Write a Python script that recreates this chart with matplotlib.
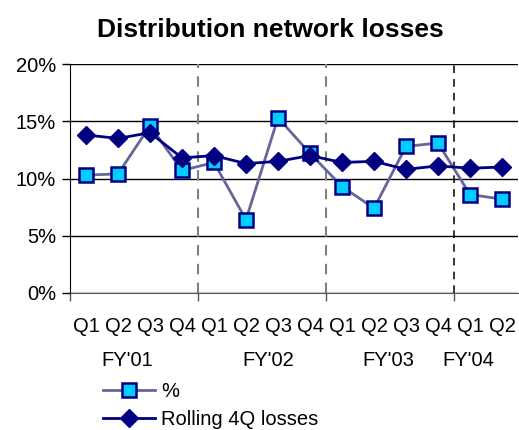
import matplotlib.pyplot as plt

quarters = ['Q1', 'Q2', 'Q3', 'Q4', 'Q1', 'Q2', 'Q3', 'Q4',
            'Q1', 'Q2', 'Q3', 'Q4', 'Q1', 'Q2']
years = ["FY'01", "FY'02", "FY'03", "FY'04"]
year_pos = [1.3, 5.7, 9.45, 11.95]
pct_losses = [10.3, 10.4, 14.6, 10.7, 11.4, 6.4, 15.3, 12.2,
              9.3, 7.4, 12.8, 13.1, 8.6, 8.2]
rolling_4q = [13.8, 13.5, 14.0, 11.8, 12.0, 11.3, 11.5, 12.0,
              11.4, 11.5, 10.8, 11.1, 10.9, 11.0]

plt.rcParams['font.family'] = ['Liberation Sans', 'DejaVu Sans']
fs = 14.5

fig = plt.figure(figsize=(5.19, 4.30), dpi=100)
ax = fig.add_axes([70 / 519, 1 - 293 / 430, 448 / 519, 229 / 430])

x = list(range(len(quarters)))
ax.plot(x, pct_losses, color='#666699', lw=2, marker='s', ms=10,
        mfc='#00CCFF', mec='#000080', mew=1.8, label='%', zorder=3)
ax.plot(x, rolling_4q, color='#000080', lw=2, marker='D', ms=9,
        mfc='#000080', mec='#000080', label='Rolling 4Q losses', zorder=4)

# year separators
for xs, col, w in [(3.5, '#808080', 1.5), (7.5, '#808080', 1.5), (11.5, '#000000', 1.1)]:
    ax.axvline(xs, color=col, ls=(0, (5, 4)), lw=w, zorder=1)

ax.set_xlim(-0.5, 13.5)
ax.set_ylim(0, 20)
ax.set_yticks([0, 5, 10, 15, 20])
ax.set_yticklabels(['0%', '5%', '10%', '15%', '20%'], fontsize=fs)
ax.yaxis.grid(True, color='#000000', lw=1)
ax.set_axisbelow(True)

ax.set_xticks([-0.5, 3.5, 7.5, 11.5])
ax.set_xticklabels([])
ax.tick_params(axis='x', length=6, width=1, color='#555555')
ax.tick_params(axis='y', length=6, width=1, pad=4)
for q, xi in zip(quarters, x):
    ax.text(xi, -0.105, q, transform=ax.get_xaxis_transform(),
            ha='center', va='top', fontsize=fs)
for yl, xp in zip(years, year_pos):
    ax.text(xp, -0.255, yl, transform=ax.get_xaxis_transform(),
            ha='center', va='top', fontsize=fs)

for s in ['top', 'right']:
    ax.spines[s].set_visible(False)
ax.spines['bottom'].set_color('#555555')

fig.text(270 / 519, 1 - 30 / 430, 'Distribution network losses',
         ha='center', va='center', fontsize=19, fontweight='bold')

fig.legend(loc='upper left', bbox_to_anchor=(103 / 519, 1 - 382 / 430),
           frameon=False, fontsize=fs, handlelength=2.6,
           handletextpad=0.3, labelspacing=0.45, borderaxespad=0,
           borderpad=0)

fig.savefig('out.png', dpi=100)
